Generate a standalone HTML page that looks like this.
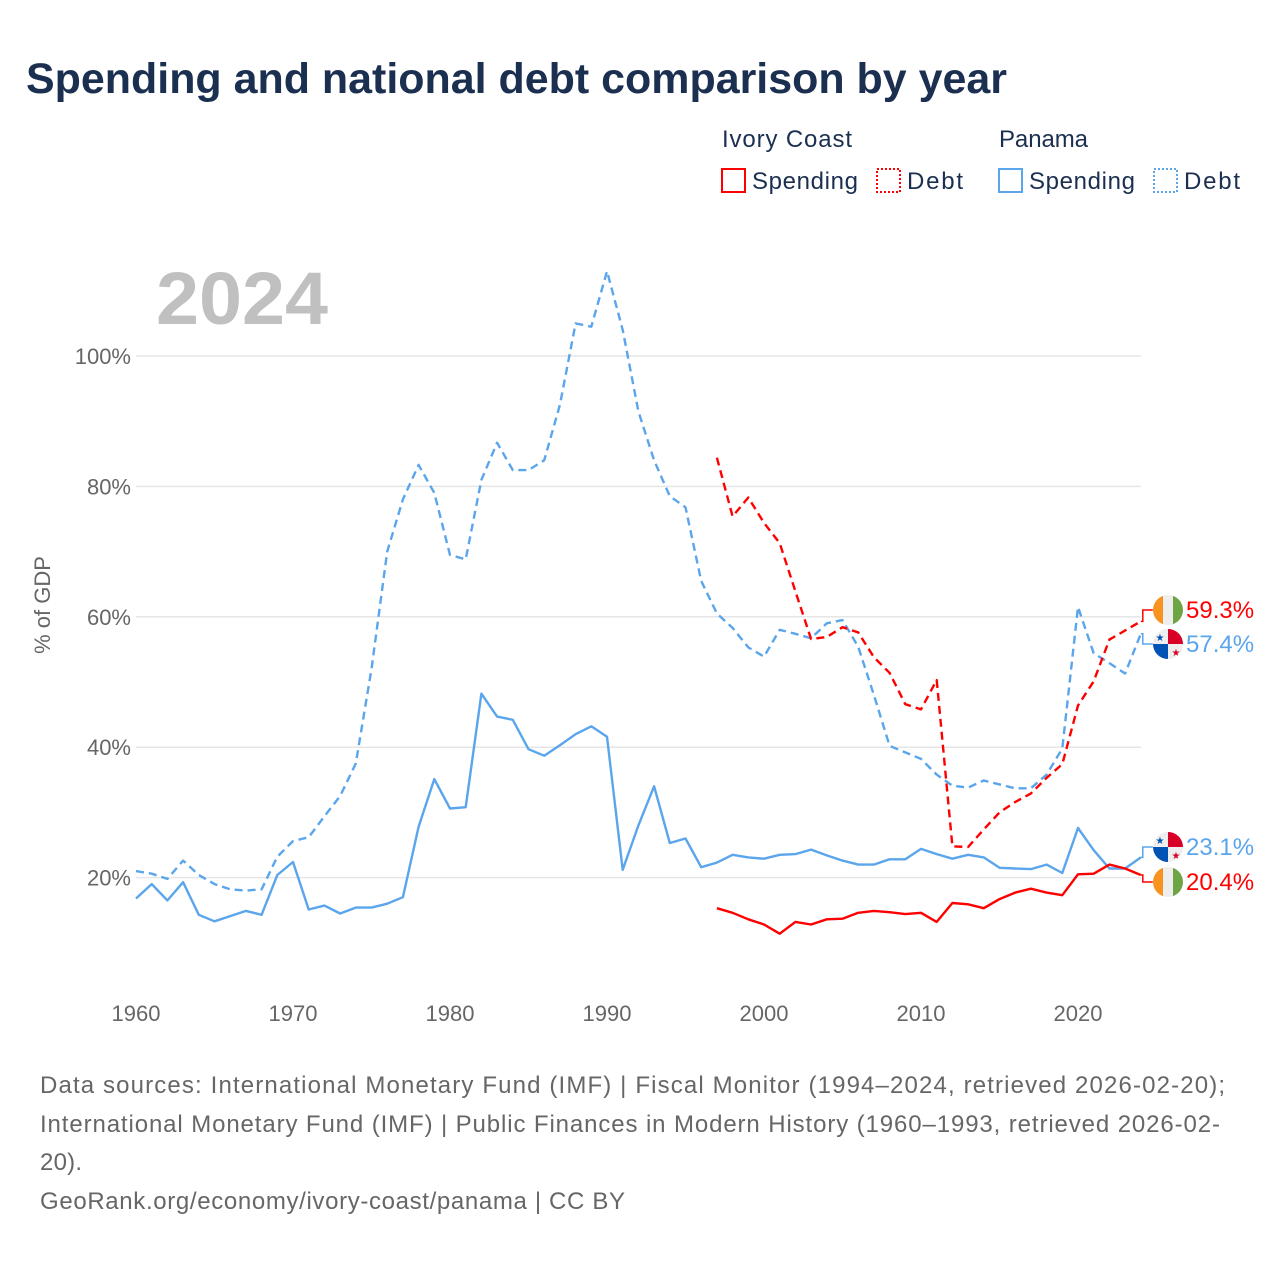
<!DOCTYPE html>
<html><head><meta charset="utf-8"><style>
body{margin:0;background:#fff;width:1280px;height:1280px;overflow:hidden;font-family:"Liberation Sans",sans-serif}
svg text{font-family:"Liberation Sans",sans-serif}
</style></head><body>
<svg width="1280" height="1280" xmlns="http://www.w3.org/2000/svg">
<text x="26" y="93" font-size="43" font-weight="bold" fill="#1b2f50" textLength="981" lengthAdjust="spacingAndGlyphs">Spending and national debt comparison by year</text>
<g font-size="24" fill="#1b2f50">
<text x="722" y="147" textLength="130">Ivory Coast</text>
<text x="999" y="147" textLength="89">Panama</text>
<rect x="722" y="169" width="23" height="23" fill="none" stroke="#f00" stroke-width="2"/>
<text x="752" y="189" textLength="106">Spending</text>
<rect x="877" y="169" width="23" height="23" fill="none" stroke="#f00" stroke-width="2" stroke-dasharray="2 2"/>
<text x="907" y="189" textLength="56">Debt</text>
<rect x="999" y="169" width="23" height="23" fill="none" stroke="#5aa5ec" stroke-width="2"/>
<text x="1029" y="189" textLength="106">Spending</text>
<rect x="1154" y="169" width="23" height="23" fill="none" stroke="#5aa5ec" stroke-width="2" stroke-dasharray="2 2"/>
<text x="1184" y="189" textLength="56">Debt</text>
</g>
<text x="156" y="324" font-size="74" font-weight="bold" fill="#c0c0c0" textLength="172" lengthAdjust="spacingAndGlyphs">2024</text>
<text transform="translate(50,605) rotate(-90)" text-anchor="middle" font-size="22" fill="#666">% of GDP</text>
<g id="grid"></g><g id="ticks"></g><g id="series"></g><g id="labels"></g>
<g font-size="24" fill="#666">
<text x="40" y="1093" textLength="1185">Data sources: International Monetary Fund (IMF) | Fiscal Monitor (1994–2024, retrieved 2026-02-20);</text>
<text x="40" y="1132" textLength="1180">International Monetary Fund (IMF) | Public Finances in Modern History (1960–1993, retrieved 2026-02-</text>
<text x="40" y="1170" textLength="42">20).</text>
<text x="40" y="1209" textLength="585">GeoRank.org/economy/ivory-coast/panama | CC BY</text>
</g>
</svg>
<script>
const yTicks=[20,40,60,80,100];
const xTicks=[1960,1970,1980,1990,2000,2010,2020];
const panamaStart=1960;
const panamaDebt=[21.0,20.6,19.8,22.6,20.4,19.0,18.2,18.0,18.2,23.2,25.6,26.2,29.4,32.5,37.5,52,70,78,83.3,79,69.5,68.8,81,86.7,82.5,82.5,84,92.5,105,104.5,113,104,91.5,84,78.5,76.8,65.5,60.5,58.3,55.3,53.9,58,57.4,56.7,59,59.5,55.4,48,40.2,39.2,38.2,35.8,34.1,33.8,34.9,34.3,33.7,33.7,35.8,39.8,61.5,54.4,52.9,51.3,57.4];
const panamaSpending=[16.8,19,16.5,19.3,14.3,13.3,14.1,14.9,14.3,20.4,22.4,15.1,15.7,14.5,15.4,15.4,16,17,27.8,35.1,30.6,30.8,48.2,44.7,44.2,39.7,38.7,40.3,42,43.2,41.6,21.2,28,34,25.3,26,21.6,22.3,23.5,23.1,22.9,23.5,23.6,24.3,23.4,22.6,22,22,22.8,22.8,24.4,23.6,22.9,23.5,23.1,21.5,21.4,21.3,22,20.7,27.6,24.2,21.4,21.4,23.1];
const ivoryStart=1997;
const ivoryDebt=[84.4,75.4,78.3,74.4,71.3,63.9,56.6,56.9,58.4,57.6,53.8,51.4,46.6,45.8,50.3,24.8,24.7,27.4,30,31.6,32.9,35.3,37.4,46.4,50.1,56.5,57.9,59.3];
const ivorySpending=[15.3,14.6,13.6,12.8,11.4,13.2,12.8,13.6,13.7,14.6,14.9,14.7,14.4,14.6,13.2,16.1,15.9,15.3,16.7,17.7,18.3,17.7,17.3,20.5,20.6,22,21.4,20.4];
const X=y=>136+(y-1960)*15.7;
const Y=v=>1008-v*6.52;
const NS="http://www.w3.org/2000/svg";
function mk(tag,attrs,parent){const e=document.createElementNS(NS,tag);for(const k in attrs)e.setAttribute(k,attrs[k]);parent.appendChild(e);return e;}
const grid=document.getElementById('grid'),ticks=document.getElementById('ticks'),series=document.getElementById('series'),labels=document.getElementById('labels');
yTicks.forEach(t=>{
 const l=mk('line',{x1:136,x2:1141,y1:Y(t),y2:Y(t),stroke:'#e6e6e6','stroke-width':1.5},grid);
 
 
 const tx=mk('text',{x:131,y:Y(t)+8,'text-anchor':'end','font-size':22,fill:'#666'},ticks);
 tx.textContent=t+'%';
 
 
});
xTicks.forEach(t=>{
 const tx=mk('text',{x:X(t),y:1021,'text-anchor':'middle','font-size':22,fill:'#666'},ticks);
 tx.textContent=t;
 
 
});
function line(data,start,color,dash,name){
 const pts=data.map((v,i)=>X(start+i).toFixed(1)+','+Y(v).toFixed(1)).join(' ');
 const p=mk('polyline',{points:pts,fill:'none',stroke:color,'stroke-width':2.4,'stroke-linejoin':'round'},series);
 if(dash)p.setAttribute('stroke-dasharray','8 5');
 
 
}
line(panamaDebt,panamaStart,'#5aa5ec',true,'panama-debt-line');
line(panamaSpending,panamaStart,'#5aa5ec',false,'panama-spending-line');
line(ivoryDebt,ivoryStart,'#f00',true,'ivory-debt-line');
line(ivorySpending,ivoryStart,'#f00',false,'ivory-spending-line');
function flag(cx,cy,kind,g){
 const clip='c'+Math.round(cy);
 const d=mk('clipPath',{id:clip},g);mk('circle',{cx,cy,r:15},d);
 const f=mk('g',{'clip-path':'url(#'+clip+')'},g);
 if(kind==='ci'){
  mk('rect',{x:cx-15,y:cy-15,width:10,height:30,fill:'#f7931e'},f);
  mk('rect',{x:cx-5,y:cy-15,width:10,height:30,fill:'#eee'},f);
  mk('rect',{x:cx+5,y:cy-15,width:10,height:30,fill:'#6da544'},f);
 }else{
  mk('rect',{x:cx-15,y:cy-15,width:30,height:30,fill:'#eee'},f);
  mk('rect',{x:cx,y:cy-15,width:15,height:15,fill:'#d80027'},f);
  mk('rect',{x:cx-15,y:cy,width:15,height:15,fill:'#0052b4'},f);
  const s1=mk('text',{x:cx-8,y:cy-3,'text-anchor':'middle','font-size':10,fill:'#0052b4'},f);s1.textContent='★';
  const s2=mk('text',{x:cx+8,y:cy+12,'text-anchor':'middle','font-size':10,fill:'#d80027'},f);s2.textContent='★';
 }
}
function endLabel(lastV,ly,color,kind,name){
 const g=mk('g',{},labels);
 
 
 const x0=X(2024),y0=Y(lastV);
 mk('polyline',{points:`${x0},${y0} ${x0+2},${y0} ${x0+2},${ly} ${x0+12},${ly}`,fill:'none',stroke:color,'stroke-width':1.5},g);
 flag(1168,ly,kind,g);
 const t=mk('text',{x:1186,y:ly+8,'font-size':24,fill:color},g);
 t.textContent=lastV.toFixed(1)+'%';
}
endLabel(ivoryDebt[ivoryDebt.length-1],610,'#f00','ci','ivory-debt-end-label');
endLabel(panamaDebt[panamaDebt.length-1],644,'#5aa5ec','pa','panama-debt-end-label');
endLabel(panamaSpending[panamaSpending.length-1],847,'#5aa5ec','pa','panama-spending-end-label');
endLabel(ivorySpending[ivorySpending.length-1],882,'#f00','ci','ivory-spending-end-label');
</script>
</body></html>
